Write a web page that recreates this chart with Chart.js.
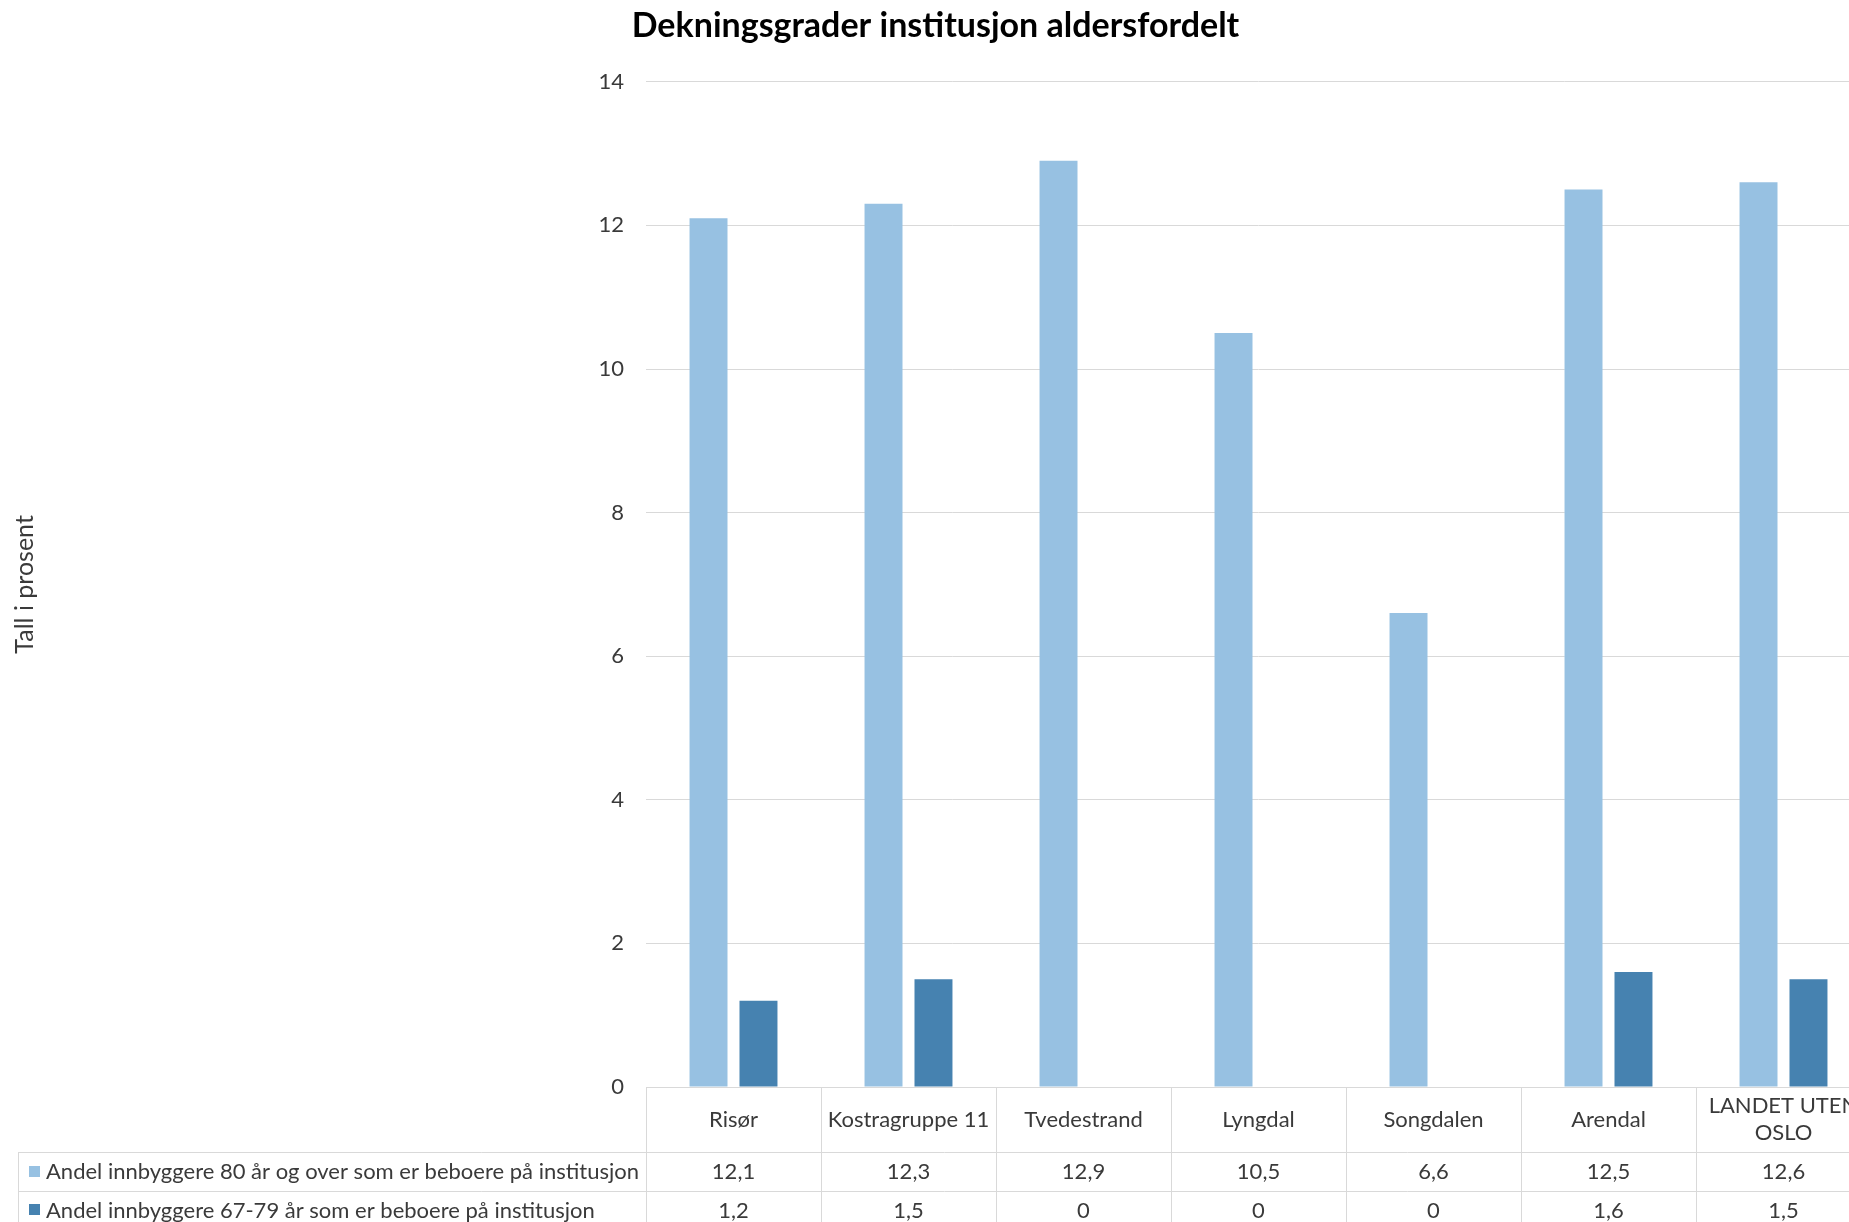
<!DOCTYPE html>
<html lang="no">
<head>
<meta charset="utf-8">
<title>Dekningsgrader institusjon aldersfordelt</title>
<script src="https://cdn.jsdelivr.net/npm/chart.js@4.4.1/dist/chart.umd.min.js"></script>
<style>
  html, body { margin: 0; padding: 0; background: #ffffff; overflow: hidden; }
  #wrap { width: 1875px; height: 1222px; }
</style>
</head>
<body>
<div id="wrap"><canvas id="chart" width="1875" height="1222"></canvas></div>
<script>
// Kategorier (kommuner / grupper)
const categories = ['Risør', 'Kostragruppe 11', 'Tvedestrand', 'Lyngdal', 'Songdalen', 'Arendal', ['LANDET UTEN', 'OSLO']];

// Serienavn
const seriesNames = [
  'Andel innbyggere 80 år og over som er beboere på institusjon',
  'Andel innbyggere 67-79 år som er beboere på institusjon'
];

// Verdier i prosent
const andel80pluss = [12.1, 12.3, 12.9, 10.5, 6.6, 12.5, 12.6];
const andel67til79 = [1.2, 1.5, 0, 0, 0, 1.6, 1.5];

// Y-akse
const yTicks = [0, 2, 4, 6, 8, 10, 12, 14];

const colors = ['#97C1E2', '#4682B0'];
const FONT = 'Lato, "Open Sans", sans-serif';
const TEXT = '#3a3a3a';
const LINE = '#d9d9d9';
const FS = 22;

const fmt = v => String(v).replace('.', ',');

// Tabell under diagrammet: kategorihode + en rad per serie
const dataTablePlugin = {
  id: 'dataTable',
  afterDraw(chart) {
    const ctx = chart.ctx;
    const xs = chart.scales.x;
    const area = chart.chartArea;
    const n = categories.length;
    const step = xs.getPixelForValue(1) - xs.getPixelForValue(0);
    const left = xs.getPixelForValue(0) - step / 2;
    const right = xs.getPixelForValue(n - 1) + step / 2;
    const top = area.bottom;
    const headH = 65;
    const rowH = 38.5;
    const legendLeft = 18;
    const bottom = top + headH + rowH * seriesNames.length;
    const rows = [andel80pluss, andel67til79];

    ctx.save();
    ctx.strokeStyle = LINE;
    ctx.lineWidth = 1;
    ctx.beginPath();
    // vertikale skillelinjer mellom kategoriene
    for (let i = 0; i <= n; i++) {
      const x = Math.round(left + i * step) + 0.5;
      ctx.moveTo(x, top);
      ctx.lineTo(x, bottom);
    }
    // venstre kant av forklaringskolonnen
    ctx.moveTo(legendLeft + 0.5, top + headH);
    ctx.lineTo(legendLeft + 0.5, bottom);
    // horisontale linjer
    for (let r = 0; r <= rows.length; r++) {
      const y = Math.round(top + headH + r * rowH) + 0.5;
      ctx.moveTo(legendLeft, y);
      ctx.lineTo(right, y);
    }
    ctx.stroke();

    ctx.fillStyle = TEXT;
    ctx.font = FS + 'px ' + FONT;
    ctx.textAlign = 'center';
    ctx.textBaseline = 'middle';
    // kategorinavn
    categories.forEach((c, i) => {
      const cx = xs.getPixelForValue(i);
      const lines = Array.isArray(c) ? c : [c];
      const lh = 27;
      const y0 = top + headH / 2 - (lines.length - 1) * lh / 2;
      lines.forEach((t, k) => ctx.fillText(t, cx, y0 + k * lh));
    });
    // verdier og forklaring
    rows.forEach((vals, r) => {
      const cy = top + headH + r * rowH + rowH / 2;
      ctx.fillStyle = colors[r];
      ctx.fillRect(29, Math.round(cy - 5.5), 11, 11);
      ctx.fillStyle = TEXT;
      ctx.textAlign = 'left';
      ctx.fillText(seriesNames[r], 46, cy + 1);
      ctx.textAlign = 'center';
      vals.forEach((v, i) => ctx.fillText(fmt(v), xs.getPixelForValue(i), cy + 1));
    });
    ctx.restore();
  }
};

function draw() {
  new Chart(document.getElementById('chart'), {
    type: 'bar',
    data: {
      labels: categories,
      datasets: [
        { label: seriesNames[0], data: andel80pluss, backgroundColor: colors[0] },
        { label: seriesNames[1], data: andel67til79, backgroundColor: colors[1] }
      ]
    },
    options: {
      responsive: false,
      animation: false,
      devicePixelRatio: 1,
      layout: { padding: { left: 0, right: 4, top: 0, bottom: 0 } },
      datasets: { bar: { categoryPercentage: 0.571, barPercentage: 0.76 } },
      plugins: {
        legend: { display: false },
        tooltip: { enabled: false },
        title: {
          display: true,
          text: 'Dekningsgrader institusjon aldersfordelt',
          color: '#000000',
          font: { family: FONT, size: 34, weight: 'bold' },
          padding: { top: 6, bottom: 35 }
        }
      },
      scales: {
        x: {
          grid: { display: false },
          border: { display: true, color: LINE, width: 1 },
          ticks: { display: false },
          afterFit(scale) { scale.height = 135; }
        },
        y: {
          min: 0,
          max: 14,
          afterBuildTicks(scale) { scale.ticks = yTicks.map(v => ({ value: v })); },
          ticks: { color: TEXT, font: { family: FONT, size: FS }, padding: 22 },
          grid: { color: LINE, lineWidth: 1, drawTicks: false },
          border: { display: false },
          title: {
            display: true,
            text: 'Tall i prosent',
            color: TEXT,
            font: { family: FONT, size: 25 },
            padding: { top: 10, bottom: 0 }
          },
          afterFit(scale) { scale.width = 646; }
        }
      }
    },
    plugins: [dataTablePlugin]
  });
}

if (document.fonts && document.fonts.load) {
  Promise.all([
    document.fonts.load(FS + 'px Lato'),
    document.fonts.load('bold 34px Lato')
  ]).then(draw, draw);
} else {
  draw();
}
</script>
</body>
</html>
